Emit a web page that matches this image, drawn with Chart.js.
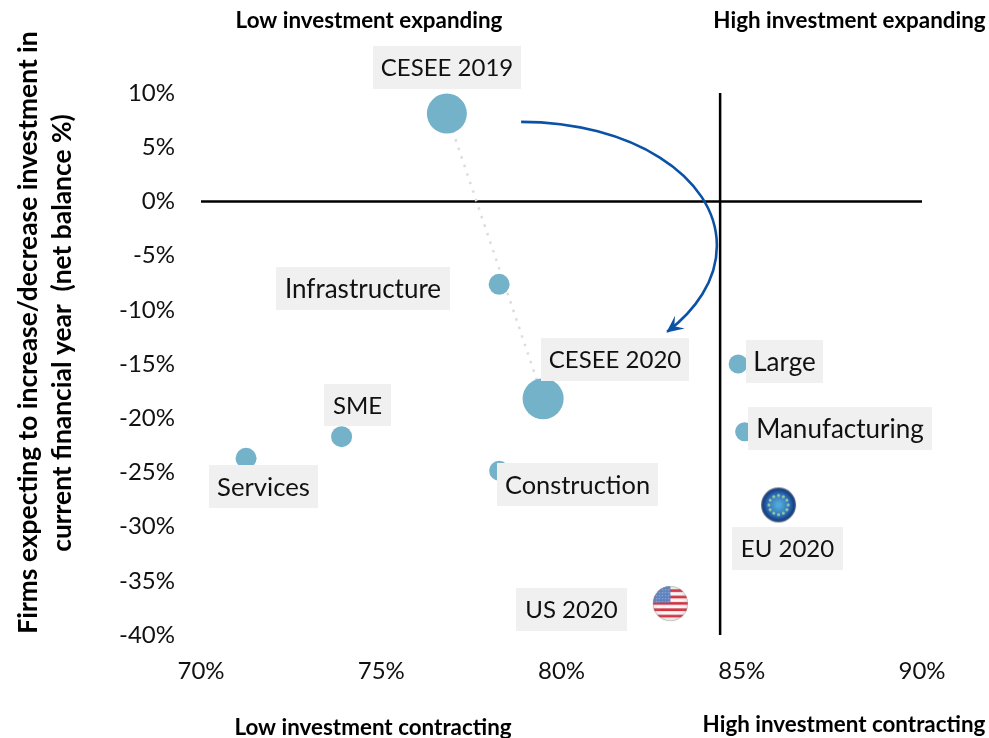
<!DOCTYPE html>
<html><head><meta charset="utf-8">
<style>html,body{margin:0;padding:0;background:#fff}#w{width:989px;height:738px;position:relative}</style>
<script src="https://cdn.jsdelivr.net/npm/chart.js@4/dist/chart.umd.min.js"></script>
</head><body><div id="w"><canvas id="c"></canvas></div>
<script>
const names = ['CESEE 2019','Infrastructure','CESEE 2020','Large','Manufacturing','SME','Services','Construction','EU 2020','US 2020'];
const investX = [76.82,78.27,79.49,84.9,85.08,73.9,71.25,78.27,86.02,83.02];
const netY = [8.1,-7.65,-18.2,-15.0,-21.25,-21.7,-23.7,-24.85,-28.0,-37.1];
const radii = [20,10.5,20.5,9.5,9.5,10.5,10.5,10,17.5,17.5];
const trendX = [76.82,79.49];
const trendY = [8.1,-18.2];
const avgX = 84.4;
const yTicks = [10,5,0,-5,-10,-15,-20,-25,-30,-35,-40];
const xTicks = [70,75,80,85,90];
const arrowPath = [[78.88,7.34],[81.9,7.34],[84.31,2.36],[84.31,-4.09],[84.31,-7.32],[83.7,-10.09],[82.93,-12.03]];
const quadrantTexts = ['Low investment expanding','High investment expanding','Low investment contracting','High investment contracting'];
const yTitle = ['Firms expecting to increase/decrease investment in','current financial year  (net balance %)'];

const FONT = 'Lato, Carlito, sans-serif';
const labelBoxes = [[373,46,148,43],[276,267,174,43],[541,338,148,43],[746,340,77,43],[748,407,184,43],[324,384,67,42],[209,465,109,43],[497,463,161,43],[732,527,111,43],[516,588,111,43]];
const labelSizes = [24,26,24,26,26,24,25.7,25.4,24,24];
const quadrantPos = [[369,21],[849.5,21],[373,728],[844,725]];
const yTitlePos = [[28,332.5],[62,333]];

function soften(src,px){
  const c=document.createElement('canvas');c.width=src.width;c.height=src.height;
  const g=c.getContext('2d');g.filter='blur('+px+'px)';g.drawImage(src,0,0);return c;
}
function usFlag(r){
  const s=Math.ceil(r*2)+4,c=document.createElement('canvas');c.width=c.height=s;
  const g=c.getContext('2d'),m=s/2;
  g.save();g.beginPath();g.arc(m,m,r,0,7);g.clip();
  g.fillStyle='#f6f6f6';g.fillRect(0,0,s,s);
  const h=2*r/11;
  g.fillStyle='#d4303f';
  for(let i=1;i<11;i+=2)g.fillRect(0,m-r+i*h,s,h*0.85);
  g.fillStyle='#5c82c0';g.fillRect(0,0,m,m-1);
  g.fillStyle='rgba(255,255,255,.35)';
  for(let i=0;i<6;i++)for(let j=0;j<5;j++)g.fillRect(m-r+i*3,m-r+3+j*3,1.2,1.2);
  const rg=g.createRadialGradient(m,m,r*0.6,m,m,r);
  rg.addColorStop(0,'rgba(255,255,255,0)');rg.addColorStop(.85,'rgba(130,130,130,.12)');rg.addColorStop(1,'rgba(130,130,130,.7)');
  g.fillStyle=rg;g.fillRect(0,0,s,s);
  g.restore();return soften(c,.5);
}
function euFlag(r){
  const s=Math.ceil(r*2)+4,c=document.createElement('canvas');c.width=c.height=s;
  const g=c.getContext('2d'),m=s/2;
  const rg=g.createRadialGradient(m,m,2,m,m,r);
  rg.addColorStop(0,'#52a8d8');rg.addColorStop(.55,'#2f74b8');rg.addColorStop(.88,'#153f86');rg.addColorStop(1,'#6a7484');
  g.fillStyle=rg;g.beginPath();g.arc(m,m,r,0,7);g.fill();
  g.fillStyle='#9fc8a0';
  for(let i=0;i<12;i++){const a=i*Math.PI/6;g.beginPath();g.arc(m+Math.cos(a)*r*.55,m+Math.sin(a)*r*.55,1.5,0,7);g.fill();}
  return soften(c,.7);
}

const pointStyles = names.map((n,i)=> n==='EU 2020'?euFlag(radii[i]): n==='US 2020'?usFlag(radii[i]):'circle');

const overlay = {
  id:'overlay',
  afterDatasetsDraw(ch){
    const {ctx,scales:{x,y}}=ch;
    const P=a=>[x.getPixelForValue(a[0]),y.getPixelForValue(a[1])];
    const pts=arrowPath.map(P);
    ctx.save();
    ctx.strokeStyle='#0b52a6';ctx.lineWidth=2.6;
    ctx.beginPath();ctx.moveTo(...pts[0]);
    ctx.bezierCurveTo(...pts[1],...pts[2],...pts[3]);
    ctx.bezierCurveTo(...pts[4],...pts[5],...pts[6]);
    ctx.stroke();
    const e=pts[6],p=pts[5],ang=Math.atan2(e[1]-p[1],e[0]-p[0]);
    ctx.translate(e[0],e[1]);ctx.rotate(ang);
    ctx.fillStyle='#0b52a6';ctx.beginPath();
    ctx.moveTo(1,0);ctx.lineTo(-16,-8);ctx.lineTo(-9,0);ctx.lineTo(-16,8);ctx.closePath();ctx.fill();
    ctx.restore();
    ctx.save();
    ctx.textAlign='center';ctx.textBaseline='middle';
    names.forEach((n,i)=>{
      const b=labelBoxes[i];
      ctx.fillStyle='#f0f0f0';ctx.fillRect(b[0],b[1],b[2],b[3]);
      ctx.fillStyle='#111';ctx.font=labelSizes[i]+'px '+FONT;
      ctx.fillText(n,b[0]+b[2]/2,b[1]+b[3]/2+1);
    });
    ctx.font='bold 22.4px '+FONT;ctx.fillStyle='#000';
    quadrantTexts.forEach((t,i)=>ctx.fillText(t,quadrantPos[i][0],quadrantPos[i][1]));
    ctx.font='bold 26.4px '+FONT;
    yTitle.forEach((t,i)=>{
      ctx.save();ctx.translate(yTitlePos[i][0],yTitlePos[i][1]);ctx.rotate(-Math.PI/2);
      ctx.fillText(t,0,0);ctx.restore();
    });
    ctx.restore();
  }
};

const lineStyle={showLine:true,pointRadius:0,pointHoverRadius:0,borderColor:'#000',borderWidth:2.5,backgroundColor:'#000'};
new Chart(document.getElementById('c'),{
  type:'scatter',
  data:{datasets:[
    {label:'Firms',order:1,data:names.map((n,i)=>({x:investX[i],y:netY[i]})),
     pointRadius:radii,pointHoverRadius:radii,pointStyle:pointStyles,
     backgroundColor:'#73b2c9',borderColor:'#73b2c9',borderWidth:0},
    {label:'Trend',order:2,data:trendX.map((v,i)=>({x:v,y:trendY[i]})),...lineStyle,
     borderColor:'#dcdcdc',borderWidth:2.5,borderDash:[2.5,6.5]},
    {label:'Zero',order:3,data:[{x:xTicks[0],y:0},{x:xTicks[4],y:0}],...lineStyle},
    {label:'Average',order:3,data:[{x:avgX,y:yTicks[0]},{x:avgX,y:yTicks[10]}],...lineStyle}
  ]},
  options:{
    responsive:true,maintainAspectRatio:false,animation:false,
    layout:{padding:{left:0,right:67,top:93,bottom:53}},
    plugins:{legend:{display:false},tooltip:{enabled:false},title:{display:false}},
    clip:false,
    scales:{
      x:{type:'linear',min:70,max:90,grid:{display:false},border:{display:false},
        afterFit(s){s.height=50;},
        afterBuildTicks(s){s.ticks=xTicks.map(v=>({value:v}));},
        ticks:{maxRotation:0,padding:14,color:'#111',font:{size:24,family:FONT},callback:v=>v+'%'}},
      y:{type:'linear',min:-40,max:10,grid:{display:false},border:{display:false},
        afterFit(s){s.width=201;},
        afterBuildTicks(s){s.ticks=yTicks.map(v=>({value:v}));},
        ticks:{padding:18,color:'#111',font:{size:24,family:FONT},callback:v=>v+'%'}}
    }
  },
  plugins:[overlay]
});
</script></body></html>
